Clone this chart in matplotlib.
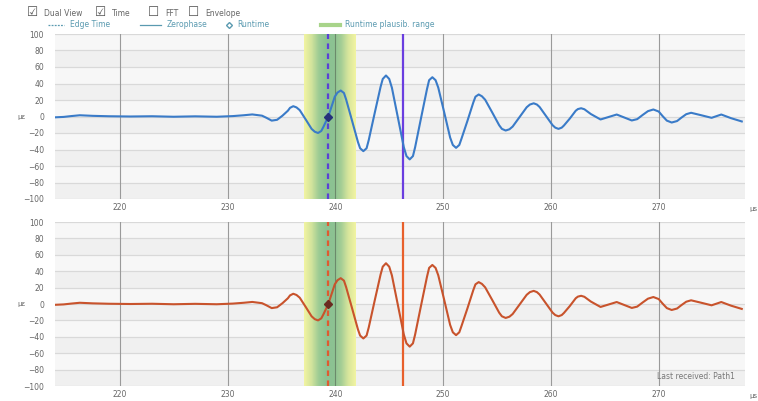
import numpy as np
import matplotlib
matplotlib.use("Agg")
from matplotlib import pyplot as plt
from matplotlib.colors import LinearSegmentedColormap
from matplotlib.lines import Line2D

# waveform (time in µs, amplitude)
t = [214.0, 214.8, 215.5, 216.3, 217.5, 219.0, 221.0, 223.0, 225.0, 227.0,
     229.0, 230.5, 231.5, 232.3, 233.2, 233.6, 234.1, 234.6, 235.1, 235.6,
     235.8, 236.1, 236.4, 236.7, 237.25, 237.8, 238.1, 238.4, 238.7, 238.9,
     239.35, 239.95, 240.2, 240.5, 240.8, 241.0, 241.55, 242.1, 242.3, 242.6,
     242.9, 243.1, 243.65, 244.2, 244.4, 244.7, 245.0, 245.25, 245.8, 246.35,
     246.6, 246.9, 247.2, 247.4, 247.95, 248.5, 248.7, 249.0, 249.3, 249.55,
     250.1, 250.65, 250.9, 251.2, 251.5, 251.7, 252.25, 252.8, 253.0, 253.3,
     253.6, 253.9, 254.55, 255.2, 255.45, 255.8, 256.15, 256.45, 257.1, 257.75,
     258.05, 258.4, 258.7, 258.95, 259.55, 260.15, 260.4, 260.7, 261.0, 261.2,
     261.75, 262.3, 262.5, 262.8, 263.1, 263.7, 264.6, 265.35, 266.1, 266.8,
     267.5, 268.0, 268.5, 269.0, 269.5, 270.0, 270.35, 270.75, 271.2, 271.7,
     272.1, 272.55, 273.0, 273.95, 274.9, 275.35, 275.8, 276.7, 277.7]
amp = [-1, -0.5, 0.5, 1.5, 0.8, 0.3, 0, 0.3, -0.3, 0.2,
       -0.3, 0.5, 1.5, 2.5, 1, -1.5, -5, -4, 1, 7,
       10.5, 12.5, 11, 7.7, -3.5, -15, -18.5, -20, -17.5, -12.5,
       0, 24, 29, 31.5, 28.5, 20.7, -5, -31, -38.5, -42,
       -38.5, -28.6, 4, 36, 45.5, 49.7, 45.5, 34.8, -1, -37,
       -48, -52, -48, -37.4, -2, 33, 44, 47.6, 44, 35,
       5, -25.5, -34.5, -38, -34.5, -27, -5.5, 17, 24, 26.7,
       24.5, 20.3, 5, -10.6, -15, -17, -15.5, -12.2, -0.5, 11.2,
       14.5, 16, 14.5, 11.5, 0.5, -10.5, -13.5, -15, -13.5, -11,
       -2.5, 7, 9, 10, 8.8, 3, -3.6, -0.6, 2.4, -1.2,
       -4.8, -3.2, 1.8, 6.5, 8.5, 6, 0.6, -5, -7.3, -5.5,
       -1.4, 2.8, 4.5, 1.5, -1.6, 0.4, 2.4, -2, -6]

edge_time = 239.35
zerophase = 246.3
runtime = (239.35, 0)
plaus_range = (237.05, 241.8)

x_ticks = [220, 230, 240, 250, 260, 270]
y_ticks = [100, 80, 60, 40, 20, 0, -20, -40, -60, -80, -100]

panels = [
    dict(wave="#3a7bc8", zero="#6a3ee0", edge="#5a40d8", mark="#25307a"),
    dict(wave="#c8532c", zero="#e8602c", edge="#e05a30", mark="#6a2a20"),
]

fig = plt.figure(figsize=(7.58, 4.01), dpi=100)
fig.patch.set_facecolor("white")

band_cmap = LinearSegmentedColormap.from_list(
    "band", ["#f2f4a2", "#d2e39c", "#9ccb94", "#8cc292", "#8cc292",
             "#a3cd95", "#d8e69c", "#f2f4a2"])

axes_pos = [[55/758, 1-199/401, 690/758, 165/401],
            [55/758, 1-386/401, 690/758, 164/401]]

for pos, st in zip(axes_pos, panels):
    ax = fig.add_axes(pos)
    ax.set_facecolor("#f7f7f7")
    for lo in range(-100, 100, 40):
        ax.axhspan(lo, lo + 20, color="#f0f0f0", lw=0, zorder=0)
    ax.set_xlim(214, 278)
    ax.set_ylim(-100, 100)
    for s in ax.spines.values():
        s.set_visible(False)
    for yv in y_ticks:
        ax.axhline(yv, color="#d9d9d9", lw=0.9, zorder=1)
    for xv in x_ticks:
        ax.axvline(xv, color="#9a9a9a", lw=0.8, zorder=1)
    grad = np.linspace(0, 1, 200).reshape(1, -1)
    ax.imshow(grad, cmap=band_cmap, aspect="auto", zorder=2,
              extent=(plaus_range[0], plaus_range[1], -100, 100))
    ax.axvline(240, color="#6b8a6b", lw=0.8, zorder=2.5)
    ax.axvline(edge_time, color=st["edge"], lw=1.6, ls=(0, (2.5, 2)), zorder=3)
    ax.axvline(zerophase, color=st["zero"], lw=1.6, zorder=3)
    ax.plot(t, amp, color=st["wave"], lw=1.5, zorder=4,
            solid_joinstyle="round")
    ax.plot([runtime[0]], [runtime[1]], marker="D", ms=4.5, color=st["mark"],
            mfc=st["mark"], zorder=5)
    ax.set_xticks(x_ticks)
    ax.set_yticks(y_ticks)
    ax.tick_params(length=0, labelsize=5.5, labelcolor="#666666")
    ax.tick_params(axis="x", pad=3)
    ax.tick_params(axis="y", pad=8)
    ax.set_xticklabels([str(v) for v in x_ticks])
    ax.text(-0.055, 0.5, "µε", transform=ax.transAxes, fontsize=5,
            color="#666666", va="center", ha="left")
    ax.text(1.006, -0.06, "µs", transform=ax.transAxes, fontsize=5,
            color="#666666", va="center", ha="left")

ax.text(0.985, 0.03, "Last received: Path1", transform=ax.transAxes,
        fontsize=5.5, color="#777777", ha="right", va="bottom")

# checkbox row
for x0, box, label in [(0.035, "☑", "Dual View"), (0.125, "☑", "Time"),
                       (0.195, "☐", "FFT"), (0.248, "☐", "Envelope")]:
    fig.text(x0, 0.968, box, fontsize=9, color="#555555", va="center")
    fig.text(x0 + 0.023, 0.966, label, fontsize=5.5, color="#666666", va="center")

# legend row
lc = "#5a9ab0"
ly = 0.938
fig.add_artist(Line2D([0.063, 0.085], [ly, ly], transform=fig.transFigure,
                      color=lc, lw=0.9, ls=(0, (1.5, 1))))
fig.text(0.092, ly, "Edge Time", fontsize=5.5, color=lc, va="center")
fig.add_artist(Line2D([0.185, 0.212], [ly, ly], transform=fig.transFigure,
                      color=lc, lw=0.9))
fig.text(0.22, ly, "Zerophase", fontsize=5.5, color=lc, va="center")
fig.add_artist(Line2D([0.302], [ly], transform=fig.transFigure, color=lc,
                      marker="D", ms=3, mfc="none", lw=0))
fig.text(0.313, ly, "Runtime", fontsize=5.5, color=lc, va="center")
fig.add_artist(Line2D([0.423, 0.448], [ly, ly], transform=fig.transFigure,
                      color="#a8d48a", lw=3))
fig.text(0.455, ly, "Runtime plausib. range", fontsize=5.5, color=lc, va="center")

fig.savefig("out.png", dpi=100)
